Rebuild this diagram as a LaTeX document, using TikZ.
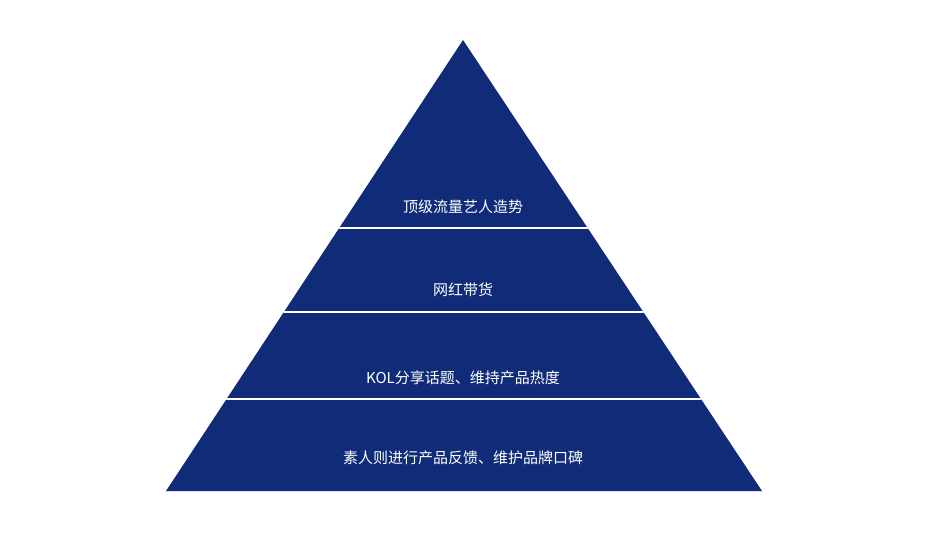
\documentclass[tikz,border=0pt]{standalone}
\usepackage{fontspec}
\newfontfamily\cjk{Noto Sans CJK SC}
\definecolor{navy}{HTML}{102C78}
\begin{document}
\begin{tikzpicture}[x=1pt,y=-1pt,
  lbl/.style={text=white,font=\cjk\fontsize{15}{18}\selectfont,inner sep=0pt}]
\useasboundingbox (0,0) rectangle (929,556);
\fill[navy] (463,40) -- (762,491) -- (166,491) -- cycle;
\begin{scope}
\clip (463,40) -- (762,491) -- (166,491) -- cycle;
\foreach \yy in {228,312,399} \draw[white,line width=2pt] (100,\yy) -- (830,\yy);
\end{scope}
\node[lbl] (t1) at (463,207) {顶级流量艺人造势};
\node[lbl] (t2) at (463,290) {网红带货};
\node[lbl] (t3) at (463,378) {KOL分享话题、维持产品热度};
\node[lbl] (t4) at (463,458) {素人则进行产品反馈、维护品牌口碑};
\end{tikzpicture}
\end{document}
